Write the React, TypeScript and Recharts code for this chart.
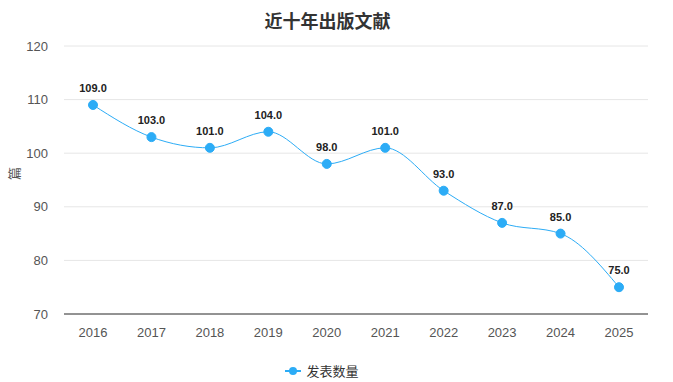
import React from 'react';
import { LineChart, Line, XAxis, YAxis, CartesianGrid, LabelList, Legend } from 'recharts';

const years = ['2016', '2017', '2018', '2019', '2020', '2021', '2022', '2023', '2024', '2025'];
const counts = [109, 103, 101, 104, 98, 101, 93, 87, 85, 75];
const yTicks = [70, 80, 90, 100, 110, 120];

const data = years.map((year, i) => ({ year, count: counts[i] }));

const COLOR = '#2CACF6';
const FONT = '"Liberation Sans", Arial, "Noto Sans CJK SC", sans-serif';

function LegendContent() {
  return (
    <div style={{ display: 'flex', justifyContent: 'center', alignItems: 'center', fontSize: 13, color: '#333', fontFamily: FONT, marginLeft: -4 }}>
      <svg width={16} height={10} style={{ marginRight: 5 }}>
        <line x1={0} y1={5} x2={16} y2={5} stroke={COLOR} strokeWidth={2} />
        <circle cx={8} cy={5} r={4} fill={COLOR} />
      </svg>
      <span>发表数量</span>
    </div>
  );
}

export default function App() {
  return (
    <div style={{ position: 'absolute', left: 0, top: 0, width: 673, height: 382, background: '#fff', fontFamily: FONT }}>
      <div style={{ position: 'absolute', top: 7, left: 0, width: 655, textAlign: 'center', fontSize: 18, fontWeight: 'bold', color: '#333' }}>
        近十年出版文献
      </div>
      <LineChart width={673} height={382} data={data} margin={{ top: 46, right: 25, bottom: 19, left: 0 }}>
        <CartesianGrid vertical={false} stroke="#e6e6e6" />
        <XAxis
          dataKey="year"
          tickLine={false}
          axisLine={{ stroke: '#333' }}
          tick={{ fontSize: 13, fill: '#555' }}
          tickMargin={8}
          height={30}
          padding={{ left: 29, right: 29 }}
        />
        <YAxis
          domain={[70, 120]}
          ticks={yTicks}
          width={64}
          axisLine={false}
          tickLine={false}
          tickMargin={10}
          tick={{ fontSize: 13, fill: '#555' }}
          label={{ value: '篇', angle: -90, position: 'insideLeft', offset: 14, fill: '#555', fontSize: 13 }}
        />
        <Legend verticalAlign="bottom" content={<LegendContent />} wrapperStyle={{ bottom: 2 }} />
        <Line
          type="monotone"
          dataKey="count"
          name="发表数量"
          stroke={COLOR}
          strokeWidth={1}
          dot={{ r: 4.5, fill: COLOR, stroke: COLOR, strokeWidth: 1 }}
          isAnimationActive={false}
        >
          <LabelList
            dataKey="count"
            position="top"
            offset={13}
            formatter={(v: number) => v.toFixed(1)}
            style={{ fontSize: 11, fontWeight: 'bold', fill: '#222' }}
          />
        </Line>
      </LineChart>
    </div>
  );
}
